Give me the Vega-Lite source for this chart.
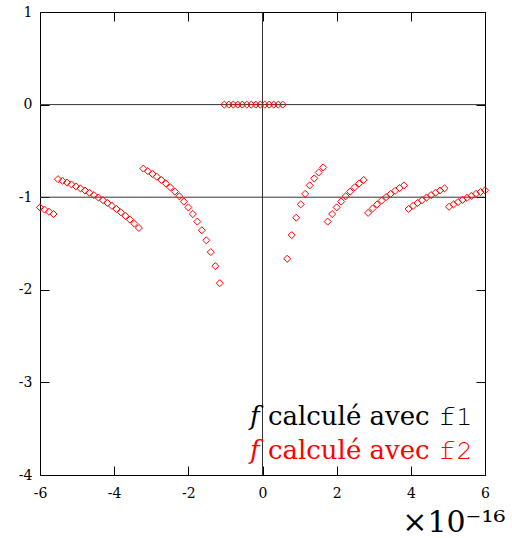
{
  "$schema": "https://vega.github.io/schema/vega-lite/v6.json",
  "width": 445,
  "height": 463,
  "autosize": {"type": "none"},
  "padding": {"left": 40, "top": 12, "right": 27, "bottom": 63},
  "background": "white",
  "config": {
    "font": "DejaVu Serif",
    "view": {"stroke": "black", "strokeWidth": 1},
    "axis": {
      "domain": false,
      "grid": false,
      "tickColor": "black",
      "tickSize": -9,
      "tickWidth": 1,
      "labelFont": "DejaVu Serif",
      "labelFontSize": 14,
      "labelColor": "black"
    }
  },
  "datasets": {
    "f2": [
      {"x": -6, "y": -1.11022, "s": "f2"},
      {"x": -5.878788, "y": -1.13311, "s": "f2"},
      {"x": -5.757576, "y": -1.15697, "s": "f2"},
      {"x": -5.636364, "y": -1.18185, "s": "f2"},
      {"x": -5.515152, "y": -0.80522, "s": "f2"},
      {"x": -5.393939, "y": -0.82331, "s": "f2"},
      {"x": -5.272727, "y": -0.84224, "s": "f2"},
      {"x": -5.151515, "y": -0.86205, "s": "f2"},
      {"x": -5.030303, "y": -0.88282, "s": "f2"},
      {"x": -4.909091, "y": -0.90463, "s": "f2"},
      {"x": -4.787879, "y": -0.92753, "s": "f2"},
      {"x": -4.666667, "y": -0.95162, "s": "f2"},
      {"x": -4.545455, "y": -0.977, "s": "f2"},
      {"x": -4.424242, "y": -1.00376, "s": "f2"},
      {"x": -4.30303, "y": -1.03204, "s": "f2"},
      {"x": -4.181818, "y": -1.06195, "s": "f2"},
      {"x": -4.060606, "y": -1.09365, "s": "f2"},
      {"x": -3.939394, "y": -1.1273, "s": "f2"},
      {"x": -3.818182, "y": -1.16309, "s": "f2"},
      {"x": -3.69697, "y": -1.20122, "s": "f2"},
      {"x": -3.575758, "y": -1.24195, "s": "f2"},
      {"x": -3.454545, "y": -1.28553, "s": "f2"},
      {"x": -3.333333, "y": -1.33227, "s": "f2"},
      {"x": -3.212121, "y": -0.69127, "s": "f2"},
      {"x": -3.090909, "y": -0.71838, "s": "f2"},
      {"x": -2.969697, "y": -0.7477, "s": "f2"},
      {"x": -2.848485, "y": -0.77952, "s": "f2"},
      {"x": -2.727273, "y": -0.81416, "s": "f2"},
      {"x": -2.606061, "y": -0.85202, "s": "f2"},
      {"x": -2.484848, "y": -0.89359, "s": "f2"},
      {"x": -2.363636, "y": -0.93942, "s": "f2"},
      {"x": -2.242424, "y": -0.9902, "s": "f2"},
      {"x": -2.121212, "y": -1.04678, "s": "f2"},
      {"x": -2, "y": -1.11022, "s": "f2"},
      {"x": -1.878788, "y": -1.18184, "s": "f2"},
      {"x": -1.757576, "y": -1.26336, "s": "f2"},
      {"x": -1.636364, "y": -1.35694, "s": "f2"},
      {"x": -1.515152, "y": -1.46549, "s": "f2"},
      {"x": -1.393939, "y": -1.59293, "s": "f2"},
      {"x": -1.272727, "y": -1.74464, "s": "f2"},
      {"x": -1.151515, "y": -1.92828, "s": "f2"},
      {"x": -1.030303, "y": 0, "s": "f2"},
      {"x": -0.909091, "y": 0, "s": "f2"},
      {"x": -0.787879, "y": 0, "s": "f2"},
      {"x": -0.666667, "y": 0, "s": "f2"},
      {"x": -0.545455, "y": 0, "s": "f2"},
      {"x": -0.424242, "y": 0, "s": "f2"},
      {"x": -0.30303, "y": 0, "s": "f2"},
      {"x": -0.181818, "y": 0, "s": "f2"},
      {"x": -0.060606, "y": 0, "s": "f2"},
      {"x": 0.060606, "y": 0, "s": "f2"},
      {"x": 0.181818, "y": 0, "s": "f2"},
      {"x": 0.30303, "y": 0, "s": "f2"},
      {"x": 0.424242, "y": 0, "s": "f2"},
      {"x": 0.545455, "y": 0, "s": "f2"},
      {"x": 0.666667, "y": -1.66533, "s": "f2"},
      {"x": 0.787879, "y": -1.40913, "s": "f2"},
      {"x": 0.909091, "y": -1.22125, "s": "f2"},
      {"x": 1.030303, "y": -1.07757, "s": "f2"},
      {"x": 1.151515, "y": -0.96414, "s": "f2"},
      {"x": 1.272727, "y": -0.87232, "s": "f2"},
      {"x": 1.393939, "y": -0.79646, "s": "f2"},
      {"x": 1.515152, "y": -0.73275, "s": "f2"},
      {"x": 1.636364, "y": -0.67847, "s": "f2"},
      {"x": 1.757576, "y": -1.26336, "s": "f2"},
      {"x": 1.878788, "y": -1.18184, "s": "f2"},
      {"x": 2, "y": -1.11022, "s": "f2"},
      {"x": 2.121212, "y": -1.04678, "s": "f2"},
      {"x": 2.242424, "y": -0.9902, "s": "f2"},
      {"x": 2.363636, "y": -0.93942, "s": "f2"},
      {"x": 2.484848, "y": -0.89359, "s": "f2"},
      {"x": 2.606061, "y": -0.85202, "s": "f2"},
      {"x": 2.727273, "y": -0.81416, "s": "f2"},
      {"x": 2.848485, "y": -1.16928, "s": "f2"},
      {"x": 2.969697, "y": -1.12155, "s": "f2"},
      {"x": 3.090909, "y": -1.07757, "s": "f2"},
      {"x": 3.212121, "y": -1.03691, "s": "f2"},
      {"x": 3.333333, "y": -0.9992, "s": "f2"},
      {"x": 3.454545, "y": -0.96414, "s": "f2"},
      {"x": 3.575758, "y": -0.93146, "s": "f2"},
      {"x": 3.69697, "y": -0.90092, "s": "f2"},
      {"x": 3.818182, "y": -0.87232, "s": "f2"},
      {"x": 3.939394, "y": -1.1273, "s": "f2"},
      {"x": 4.060606, "y": -1.09365, "s": "f2"},
      {"x": 4.181818, "y": -1.06195, "s": "f2"},
      {"x": 4.30303, "y": -1.03204, "s": "f2"},
      {"x": 4.424242, "y": -1.00376, "s": "f2"},
      {"x": 4.545455, "y": -0.977, "s": "f2"},
      {"x": 4.666667, "y": -0.95162, "s": "f2"},
      {"x": 4.787879, "y": -0.92753, "s": "f2"},
      {"x": 4.909091, "y": -0.90463, "s": "f2"},
      {"x": 5.030303, "y": -1.10354, "s": "f2"},
      {"x": 5.151515, "y": -1.07757, "s": "f2"},
      {"x": 5.272727, "y": -1.0528, "s": "f2"},
      {"x": 5.393939, "y": -1.02914, "s": "f2"},
      {"x": 5.515152, "y": -1.00654, "s": "f2"},
      {"x": 5.636364, "y": -0.98487, "s": "f2"},
      {"x": 5.757576, "y": -0.96414, "s": "f2"},
      {"x": 5.878788, "y": -0.94426, "s": "f2"},
      {"x": 6, "y": -0.92519, "s": "f2"}
    ],
    "f1": [
      {"x": -6, "y": -1, "s": "f1"},
      {"x": 6, "y": -1, "s": "f1"}
    ],
    "zero": [
      {"v": 0}
    ]
  },
  "resolve": {"axis": {"x": "independent", "y": "independent"}},
  "layer": [
    {
      "data": {"name": "zero"},
      "mark": {"type": "rule", "color": "#333", "strokeWidth": 1},
      "encoding": {
        "x": {
          "field": "v",
          "type": "quantitative",
          "scale": {"domain": [-6, 6], "nice": false, "zero": false},
          "axis": {"orient": "top", "values": [-6, -4, -2, 0, 2, 4, 6], "labels": false, "title": null}
        }
      }
    },
    {
      "data": {"name": "zero"},
      "mark": {"type": "rule", "color": "#333", "strokeWidth": 1},
      "encoding": {
        "y": {
          "field": "v",
          "type": "quantitative",
          "scale": {"domain": [-4, 1], "nice": false, "zero": false},
          "axis": {"orient": "right", "values": [-4, -3, -2, -1, 0, 1], "labels": false, "title": null}
        }
      }
    },
    {
      "data": {"name": "f1"},
      "mark": {"type": "line", "strokeWidth": 1},
      "encoding": {
        "x": {"field": "x", "type": "quantitative", "scale": {"domain": [-6, 6], "nice": false, "zero": false}, "axis": null},
        "y": {"field": "y", "type": "quantitative", "scale": {"domain": [-4, 1], "nice": false, "zero": false}, "axis": null},
        "color": {"field": "s", "type": "nominal", "scale": {"domain": ["f1", "f2"], "range": ["#333333", "#ff0000"]}}
      }
    },
    {
      "data": {"name": "f2"},
      "mark": {"type": "point", "shape": "diamond", "filled": false, "size": 50, "strokeWidth": 1, "opacity": 1},
      "encoding": {
        "x": {
          "field": "x",
          "type": "quantitative",
          "scale": {"domain": [-6, 6], "nice": false, "zero": false},
          "axis": {
            "orient": "bottom",
            "values": [-6, -4, -2, 0, 2, 4, 6],
            "labelExpr": "'' + datum.value",
            "labelPadding": 20,
            "labelFlush": false,
            "title": "×10⁻¹⁶",
            "titleFont": "DejaVu Serif",
            "titleFontSize": 30,
            "titleFontWeight": "normal",
            "titleColor": "black",
            "titleAnchor": null,
            "titleAlign": "right",
            "titleBaseline": "alphabetic",
            "titleX": 465,
            "titleY": 56
          }
        },
        "y": {
          "field": "y",
          "type": "quantitative",
          "scale": {"domain": [-4, 1], "nice": false, "zero": false},
          "axis": {
            "orient": "left",
            "values": [-4, -3, -2, -1, 0, 1],
            "labelExpr": "'' + datum.value",
            "labelPadding": 17,
            "labelFlush": false,
            "title": null
          }
        },
        "color": {
          "field": "s",
          "type": "nominal",
          "scale": {"domain": ["f1", "f2"], "range": ["#333333", "#ff0000"]},
          "legend": {
            "orient": "none",
            "legendX": 184,
            "legendY": 392,
            "title": null,
            "symbolSize": 0,
            "symbolStrokeWidth": 0,
            "symbolOpacity": 0,
            "labelOffset": 0,
            "labelFont": "DejaVu Serif",
            "labelFontSize": 26,
            "labelLimit": 400,
            "rowPadding": 8,
            "labelColor": {"expr": "datum.value == 'f1' ? 'black' : 'red'"},
            "labelExpr": "datum.value == 'f1' ? '𝑓 calculé avec 𝚏𝟷' : '𝑓 calculé avec 𝚏𝟸'",
            "values": ["f1", "f2"]
          }
        }
      }
    }
  ]
}
